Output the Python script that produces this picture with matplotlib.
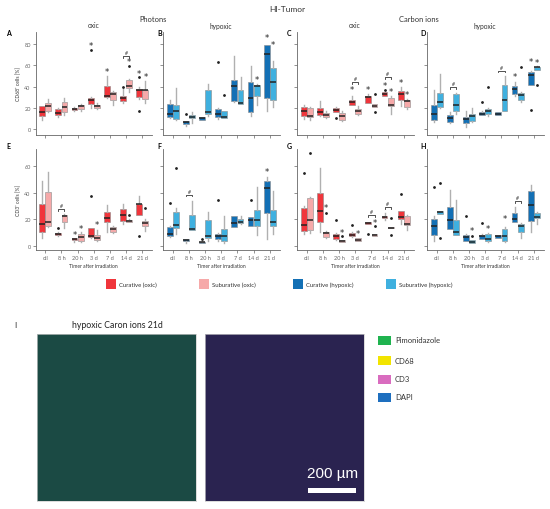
import numpy as np
import matplotlib.pyplot as plt
from matplotlib.patches import Rectangle

plt.rcParams['font.family'] = ['Lato', 'DejaVu Sans']

times = ['ctl', '8 h', '20 h', '3 d', '7 d', '14 d', '21 d']

# box stats per time point: [whisker low, q1, median, q3, whisker high]
A_cur = [[8, 12.6, 16.4, 21.4, 22], [11, 13, 15, 19, 20], [17, 17.5, 18.5, 19.5, 20.5],
         [20, 24, 27.5, 29.5, 30.5], [29, 30, 31, 40.5, 50], [24.5, 26.7, 29, 31.5, 38],
         [28, 30, 36.8, 37.7, 39.3]]
A_sub = [[15.7, 17.3, 22, 24.5, 28.3], [13, 16.4, 20.4, 25.2, 29], [17, 18.9, 21.4, 23, 23.6],
         [18.9, 19.8, 21.4, 23, 24.5], [22.6, 27.7, 33, 35.2, 36], [34.6, 38.4, 40.9, 46.5, 47.2],
         [24.5, 28.3, 36.8, 36.8, 45.6]]
B_cur = [[10, 11, 14.2, 23.6, 27.7], [3.1, 4.7, 6.3, 7.2, 7.9], [8, 8.5, 10, 11, 11.5],
         [9.4, 11, 14.2, 18.9, 19.5], [25.8, 26.7, 40.3, 46.2, 69.2], [12, 16.4, 29.2, 44, 59.7],
         [17.3, 28.9, 70.8, 79.6, 79.6]]
B_sub = [[8.8, 9.4, 17.3, 22.6, 38.4], [5.3, 10, 11.6, 13.2, 15.7], [12.6, 14.2, 16.4, 36.8, 42.5],
         [10, 10, 11, 16.7, 17], [23.6, 23.6, 24.5, 36.8, 48.7], [22.6, 31.4, 40.3, 41.5, 42.5],
         [20.4, 27.4, 44, 57.2, 64.5]]
C_cur = [[9.4, 12.6, 17.3, 21, 22.6], [12, 13.2, 16.4, 19.8, 26.7], [16.4, 16.4, 18.2, 19.5, 20.5],
         [22.6, 22.6, 25.2, 27.4, 31.4], [24.5, 24.5, 30, 31.4, 33], [31, 31.4, 33, 34.6, 35],
         [22, 27.7, 33, 36.2, 39.3]]
C_sub = [[8.8, 11, 12.6, 19.5, 20.4], [10.5, 11, 13.2, 15.1, 17.3], [7.9, 8.8, 12.6, 15.1, 17.3],
         [13.2, 14.2, 16.7, 18.9, 21.4], [20.4, 20.4, 22, 23.6, 23.6], [14.2, 21.4, 22.6, 28.9, 31.4],
         [18.9, 20.4, 26.7, 27.4, 28.3]]
D_cur = [[6.3, 8.5, 14.2, 22.6, 36.8], [5.5, 6.3, 10, 13.2, 15.7], [1.6, 5.3, 9.4, 11, 17.3],
         [13, 13.2, 14.2, 16.4, 17], [13, 13.2, 14.2, 15.7, 16], [31.4, 33, 37.7, 40.9, 44],
         [41.5, 41.5, 51, 54, 55]]
D_sub = [[19.5, 20.4, 25.2, 33.6, 51.9], [14.2, 17.3, 22.6, 33, 34], [6.9, 7.9, 12, 14.2, 19.5],
         [12, 14.2, 17.3, 18.9, 20], [16.5, 17.3, 27.7, 41.5, 50.3], [25.2, 27.4, 32, 33.6, 34.5],
         [55.5, 56, 58.2, 59, 59.5]]
E_cur = [[5.5, 10.6, 16.4, 31.5, 49], [7, 8.1, 8.8, 9.6, 10], [2.5, 4.5, 5, 5.5, 5.5],
         [5.5, 6.3, 7.6, 13.1, 13.1], [10.6, 17.6, 20.7, 25.2, 31], [16.4, 18.9, 23.2, 27.7, 31.5],
         [23.4, 23.4, 31.5, 31.5, 37.8]]
E_sub = [[13.9, 14.6, 17.6, 40.8, 55.4], [13.1, 17.6, 22.2, 23.2, 23.9], [3, 3.8, 6.3, 8.8, 10],
         [3.5, 4.5, 6, 8, 12.1], [9.6, 10.6, 12.6, 13.9, 14.5], [17.6, 17.6, 18.9, 19.6, 20.2],
         [11.3, 14.6, 17.1, 18.9, 20.2]]
F_cur = [[6.5, 7, 8.8, 13.9, 14.5], [2, 3.8, 4.5, 5, 5.3], [1.8, 2, 2.5, 3, 3.2],
         [3.8, 5, 7.6, 8.8, 9.5], [13.9, 13.9, 17.1, 22.7, 22.7], [14.6, 14.6, 19.6, 21.4, 21.4],
         [5, 24.7, 43.6, 49.1, 52]]
F_sub = [[8.8, 13.1, 15.6, 25.7, 28.5], [12, 12, 12.5, 23.5, 34], [3.8, 5.5, 7, 19.6, 25.7],
         [2, 3.8, 7, 12.6, 22.7], [16.5, 17.1, 18.1, 20.2, 22.7], [8, 14.6, 19.6, 27, 44],
         [8.8, 15.1, 18.1, 27.2, 41]]
G_cur = [[8.8, 11.3, 15.6, 28.2, 30.2], [10.6, 17.6, 26.4, 39.8, 58.4], [4.5, 5, 7.6, 8.8, 9.3],
         [6.5, 7, 8.1, 9.3, 10], [16.6, 16.6, 17.1, 17.6, 17.6], [19.5, 20.7, 21.7, 22.7, 24.7],
         [16.4, 20.2, 21.4, 26.4, 26.4]]
G_sub = [[9.6, 12.1, 19.6, 35.8, 36.5], [6, 6.3, 9.6, 10.6, 10.8], [2.5, 2.5, 3.5, 4.5, 4.5],
         [3.8, 3.8, 4.5, 5.5, 5.5], [7.3, 7.3, 8.1, 8.8, 8.8], [13.1, 13.1, 13.6, 13.9, 13.9],
         [12.1, 15.6, 16.4, 22.2, 23.2]]
H_cur = [[3.8, 8.1, 14.6, 20.2, 22.2], [12.6, 12.6, 19.4, 29, 42.3], [3.8, 3.8, 6.3, 8, 8.5],
         [5, 5, 7, 8.3, 8.5], [5.5, 5.5, 7, 8, 8], [18.1, 18.1, 20.2, 24.7, 29],
         [10.1, 18.9, 30.7, 41.6, 45.8]]
H_sub = [[23.9, 23.9, 25.2, 25.9, 25.9], [8, 8.3, 10.6, 19.4, 34.5], [1.8, 1.8, 2.5, 4.3, 4.3],
         [2.5, 3.8, 5, 8.8, 9.5], [2.5, 3.8, 7.6, 12.6, 14], [5.5, 10.6, 14.6, 16.4, 17.5],
         [16.4, 20.7, 21.4, 24.7, 25.5]]

# outliers (time index, group 0=curative 1=suburative, value)
A_out = [(3, 0, 74.8), (5, 0, 39.3), (5, 1, 59.7), (6, 0, 17.3), (6, 0, 48.7)]
B_out = [(1, 0, 14.2), (3, 0, 63.5), (3, 1, 32.4)]
C_out = [(2, 0, 10), (4, 1, 33), (4, 1, 15.7), (5, 0, 37.1)]
D_out = [(3, 0, 25.8), (3, 1, 40), (5, 1, 58.2), (6, 0, 18), (6, 1, 41.5)]
E_out = [(1, 0, 13.1), (3, 0, 37.8), (5, 1, 23.2), (6, 0, 7.6), (6, 1, 28.2)]
F_out = [(0, 0, 32), (0, 1, 58.4), (2, 0, 5), (3, 0, 34.5), (5, 0, 34.8)]
G_out = [(0, 0, 54.7), (0, 1, 69.8), (1, 1, 24.7), (2, 0, 19.4), (2, 1, 7.6), (3, 0, 15.6),
         (4, 0, 8.8), (4, 1, 14.6), (5, 1, 20.9), (5, 1, 8.1), (6, 0, 39)]
H_out = [(0, 0, 44), (0, 1, 47.1), (0, 1, 5.8), (2, 0, 22.2), (2, 1, 7.6), (3, 0, 16.9)]

# significance stars vs ctl (time index, group, value)
A_star = [(3, 0, 79.2), (4, 0, 54.7), (5, 1, 63.5), (6, 0, 52.8), (6, 1, 49.4)]
B_star = [(5, 1, 47.2), (6, 0, 86.5), (6, 1, 80.2)]
C_star = [(3, 0, 37), (4, 0, 37), (5, 0, 41.5), (5, 1, 35.8), (6, 0, 44), (6, 1, 33)]
D_star = [(5, 0, 49.7), (6, 0, 63.8), (6, 1, 62.9)]
E_star = [(2, 0, 8.8), (2, 1, 13.1), (3, 1, 16.1)]
F_star = [(6, 0, 56.2)]
G_star = [(1, 1, 28.5), (2, 1, 10.1), (3, 1, 9.3), (4, 1, 17.6)]
H_star = [(2, 1, 11.3), (3, 1, 13.1), (4, 1, 20.2)]

# "#" brackets curative vs suburative (time index, level)
A_hash = [(5, 69)]
B_hash = []
C_hash = [(3, 44), (5, 48.7)]
D_hash = [(1, 39.3), (4, 55)]
E_hash = [(1, 27.7)]
F_hash = [(1, 38.5)]
G_hash = [(4, 23.2), (5, 29)]
H_hash = [(5, 33.5)]

red, pink = '#f0353b', '#f6a9a9'
blue, lblue = '#1370b5', '#3fb0df'
grey = '#666666'

W, H = 550, 510
fig = plt.figure(figsize=(5.5, 5.1), dpi=100)


def px_axes(x0, y0, x1, y1):
    return fig.add_axes([x0 / W, 1 - y1 / H, (x1 - x0) / W, (y1 - y0) / H])


def ftext(x, y, s, **kw):
    fig.text(x / W, 1 - y / H, s, **kw)


def frect(x0, y0, w, h, c):
    fig.add_artist(Rectangle((x0 / W, 1 - (y0 + h) / H), w / W, h / H, color=c,
                             transform=fig.transFigure, lw=0))


panels = [
    ('A', A_cur, A_sub, A_out, A_star, A_hash, 35.5, 0, red, pink),
    ('B', B_cur, B_sub, B_out, B_star, B_hash, 163, 0, blue, lblue),
    ('C', C_cur, C_sub, C_out, C_star, C_hash, 297, 0, red, pink),
    ('D', D_cur, D_sub, D_out, D_star, D_hash, 427, 0, blue, lblue),
    ('E', E_cur, E_sub, E_out, E_star, E_hash, 35.5, 1, red, pink),
    ('F', F_cur, F_sub, F_out, F_star, F_hash, 163, 1, blue, lblue),
    ('G', G_cur, G_sub, G_out, G_star, G_hash, 297, 1, red, pink),
    ('H', H_cur, H_sub, H_out, H_star, H_hash, 427, 1, blue, lblue),
]

x = np.arange(1, 8)
off, bw = 0.19, 0.36
for name, cur, sub, outs, stars, hashes, x0, row, c1, c2 in panels:
    if row == 0:
        ax = px_axes(x0, 33, x0 + 116.5, 136)
        ax.set_ylim(-5.7, 91.6)
        ax.set_yticks([0, 20, 40, 60, 80])
        tick = 1.6
    else:
        ax = px_axes(x0, 150, x0 + 116.5, 251)
        ax.set_ylim(-3.3, 73.1)
        ax.set_yticks([0, 20, 40, 60])
        tick = 1.2
    ax.set_xlim(0.4, 7.6)
    for data, col, sign in [(cur, c1, -1), (sub, c2, 1)]:
        stats = [dict(whislo=d[0], q1=d[1], med=d[2], q3=d[3], whishi=d[4]) for d in data]
        ax.bxp(stats, positions=x + sign * off, widths=bw, patch_artist=True,
               showfliers=False, showcaps=False, manage_ticks=False,
               boxprops=dict(facecolor=col, edgecolor='#8a8a8a', lw=0.4),
               medianprops=dict(color='#222222', lw=1.1),
               whiskerprops=dict(color='#b0b0b0', lw=1.0))
    for t, g, v in outs:
        ax.plot(x[t] + (2 * g - 1) * off, v, 'o', color='#222222', ms=1.0)
    for t, g, v in stars:
        ax.text(x[t] + (2 * g - 1) * off, v, '*', ha='center', va='center',
                fontsize=6, color='#222222', family='DejaVu Sans')
    for t, lev in hashes:
        ax.plot([x[t] - off, x[t] - off, x[t] + off, x[t] + off],
                [lev - tick, lev, lev, lev - tick], color='#333333', lw=0.6)
        ax.text(x[t], lev + tick * 0.6, '#', ha='center', va='bottom', fontsize=3.8,
                color='#333333')
    ax.set_xticks(x)
    for s in ['top', 'right']:
        ax.spines[s].set_visible(False)
    for s in ['left', 'bottom']:
        ax.spines[s].set_color(grey)
        ax.spines[s].set_linewidth(0.6)
    ax.tick_params(length=2, width=0.5, color=grey, labelsize=4, labelcolor=grey, pad=1.5)
    if row == 1:
        ax.set_xticklabels(times)
        ax.set_xlabel('Timer after irradiation', fontsize=3.6, color='#333333', labelpad=2)
    else:
        ax.set_xticklabels([])
    if name in ('A', 'E'):
        lab = 'CD68⁺ cells [%]' if name == 'A' else 'CD3⁺ cells [%]'
        ax.set_ylabel(lab, fontsize=3.6, color='#333333', labelpad=2)
    else:
        ax.set_yticklabels([])
    ftext({'A': 6, 'E': 6, 'B': 157, 'F': 157, 'C': 287, 'G': 287, 'D': 420, 'H': 420}[name],
          33 if row == 0 else 147, name, fontsize=5, fontweight='bold', va='center')
    if row == 0:
        ftext(x0 + 58, 26, 'oxic' if name in ('A', 'C') else 'hypoxic', fontsize=4.8,
              ha='center', va='center', color='#333333')

ftext(287, 9, 'HI-Tumor', fontsize=6, ha='center', va='center', color='#333333')
ftext(153, 19, 'Photons', fontsize=5.4, ha='center', va='center', color='#333333')
ftext(419, 19, 'Carbon ions', fontsize=5.4, ha='center', va='center', color='#333333')

# group legend
leg_labels = ['Curative (oxic)', 'Suburative (oxic)', 'Curative (hypoxic)', 'Suburative (hypoxic)']
leg_colors = [red, pink, blue, lblue]
leg_x = [106, 199, 293, 386]
for lx, lab, col in zip(leg_x, leg_labels, leg_colors):
    frect(lx, 280, 10, 10, col)
    ftext(lx + 13, 285, lab, fontsize=4.3, va='center', color='#333333')

# panel I
ftext(14, 326, 'I', fontsize=6, va='center', color='#333333')
ftext(72, 326, 'hypoxic Caron ions 21d', fontsize=6.3, va='center', color='#222222')
for (ix0, ix1), bg in [((37, 196), '#1b4a44'), ((205, 364), '#2a2350')]:
    iax = px_axes(ix0, 335, ix1, 502)
    iax.set_facecolor(bg)
    iax.set_xticks([])
    iax.set_yticks([])
    for s in iax.spines.values():
        s.set_color('#cccccc')
        s.set_linewidth(0.5)
    iax.set_xlim(0, 1)
    iax.set_ylim(0, 1)
iax.add_patch(Rectangle((0.65, 0.05), 0.30, 0.025, color='white', lw=0))
iax.text(0.80, 0.17, '200 µm', color='white', fontsize=11, ha='center', va='center',
         family=['Liberation Sans', 'DejaVu Sans'])

stain_labels = ['Pimonidazole', 'CD68', 'CD3', 'DAPI']
stain_colors = ['#1fb34f', '#f2e400', '#d96cbf', '#1e6fbf']
stain_y = [341, 361, 380, 398]
for sy, lab, col in zip(stain_y, stain_labels, stain_colors):
    frect(378, sy - 4.5, 13, 9, col)
    ftext(395, sy, lab, fontsize=5.5, va='center', color='#333333')

fig.savefig('out.png', dpi=100)
